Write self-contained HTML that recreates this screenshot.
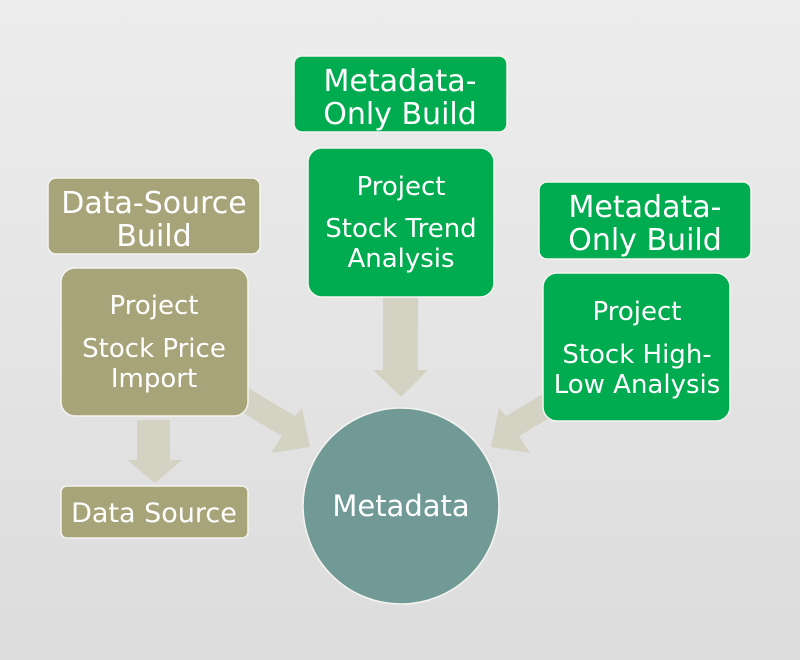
<!DOCTYPE html>
<html><head><meta charset="utf-8"><style>
html,body{margin:0;padding:0;width:800px;height:660px;overflow:hidden;background:linear-gradient(#ececec,#dcdcdc);}
svg{display:block}
text{font-family:"DejaVu Sans","Liberation Sans",sans-serif;fill:#fff;text-anchor:middle;}
</style></head><body>
<svg width="800" height="660" viewBox="0 0 800 660">
<defs><linearGradient id="bg" x1="0" y1="0" x2="0" y2="1"><stop offset="0" stop-color="#ededed"/><stop offset="1" stop-color="#dcdcdc"/></linearGradient></defs>
<rect width="800" height="660" fill="url(#bg)"/>
<g fill="#d3d2c3">
<polygon points="383,297 418,297 418,370 428,370 401,397 373,370 383,370"/>
<polygon points="137,420 170,420 170,460 182,460 155,483 127,460 137,460"/>
<polygon points="248,388 295,416 302,408 310,447 271,453 282,436 238,410"/>
<polygon points="553,388 506,416 499,408 491,447 530,453 519,436 563,410"/>
</g>
<g stroke="#f4f4f0" stroke-width="1.5">
<rect x="48" y="178" width="212" height="76" rx="8" fill="#a8a479"/>
<rect x="61" y="268" width="187" height="148" rx="14" fill="#a8a479"/>
<rect x="61" y="486" width="187" height="52" rx="6" fill="#a8a479"/>
<rect x="294" y="56" width="213" height="76" rx="8" fill="#00ac4f"/>
<rect x="308" y="148" width="186" height="149" rx="14" fill="#00ac4f"/>
<rect x="539" y="182" width="212" height="77" rx="8" fill="#00ac4f"/>
<rect x="543" y="273" width="187" height="148" rx="14" fill="#00ac4f"/>
<circle cx="401" cy="506" r="98" fill="#719a97"/>
</g>
<g font-size="30">
<text x="154" y="213">Data-Source</text>
<text x="154" y="246">Build</text>
<text x="154" y="314" font-size="26">Project</text>
<text x="154" y="357" font-size="26">Stock Price</text>
<text x="154" y="387" font-size="26">Import</text>
<text x="154" y="522" font-size="27">Data Source</text>
<text x="400" y="91">Metadata-</text>
<text x="400" y="124">Only Build</text>
<text x="401" y="195" font-size="26">Project</text>
<text x="401" y="237" font-size="26">Stock Trend</text>
<text x="401" y="267" font-size="26">Analysis</text>
<text x="645" y="217">Metadata-</text>
<text x="645" y="250">Only Build</text>
<text x="637" y="320" font-size="26">Project</text>
<text x="637" y="363" font-size="26">Stock High-</text>
<text x="637" y="393" font-size="26">Low Analysis</text>
<text x="401" y="516" font-size="29">Metadata</text>
</g>
</svg>
</body></html>
